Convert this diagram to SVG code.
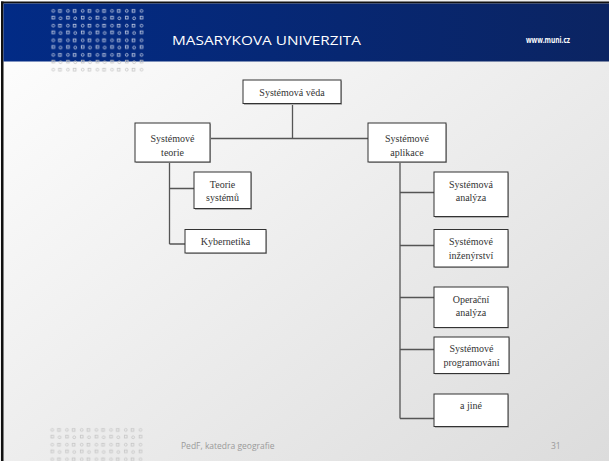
<svg xmlns="http://www.w3.org/2000/svg" width="609" height="461" viewBox="0 0 609 461">
<defs>
<linearGradient id="bg" x1="0" y1="0" x2="1" y2="1">
<stop offset="0" stop-color="#ffffff"/><stop offset="1" stop-color="#dcdcdc"/>
</linearGradient>
<linearGradient id="hd" x1="0" y1="0" x2="1" y2="0">
<stop offset="0" stop-color="#022b86"/><stop offset="1" stop-color="#0b2462"/>
</linearGradient>
<pattern id="dw" patternUnits="userSpaceOnUse" x="49.6" y="7.3" width="14.7" height="14.66">
<g fill="none" stroke="#c9d2e6" stroke-width="0.8">
<circle cx="3.67" cy="3.67" r="1.4"/><rect x="9.0" y="2.3" width="2.7" height="2.7"/>
<rect x="2.3" y="9.0" width="2.7" height="2.7"/><circle cx="11.0" cy="11.0" r="1.4"/>
</g>
</pattern>
<pattern id="dg" patternUnits="userSpaceOnUse" x="49.6" y="7.3" width="14.7" height="14.66">
<g fill="none" stroke="#c4c4c4" stroke-width="0.8">
<circle cx="3.67" cy="3.67" r="1.4"/><rect x="9.0" y="2.3" width="2.7" height="2.7"/>
<rect x="2.3" y="9.0" width="2.7" height="2.7"/><circle cx="11.0" cy="11.0" r="1.4"/>
</g>
</pattern>
<pattern id="db" patternUnits="userSpaceOnUse" x="48.6" y="426.3" width="14.7" height="14.66">
<g fill="none" stroke="#c4c4c4" stroke-width="0.8">
<circle cx="3.67" cy="3.67" r="1.4"/><rect x="9.0" y="2.3" width="2.7" height="2.7"/>
<rect x="2.3" y="9.0" width="2.7" height="2.7"/><circle cx="11.0" cy="11.0" r="1.4"/>
</g>
</pattern>
</defs>
<style>
.box{fill:#fff;stroke:#333;stroke-width:1}
.sh{fill:#b0b0b0}
.t{font-family:"Liberation Serif","Times New Roman",serif;font-size:10px;font-weight:normal;fill:#333;text-anchor:middle}
.c{fill:none;stroke:#555;stroke-width:1.3}
</style>
<rect x="0" y="0" width="609" height="461" fill="url(#bg)"/>
<rect x="1" y="1.5" width="608" height="2" fill="#111"/>
<rect x="1" y="1.5" width="2.5" height="459.5" fill="#111"/>
<rect x="3.5" y="3.5" width="605.5" height="58" fill="url(#hd)"/>
<rect x="49.6" y="7.3" width="95.5" height="51.4" fill="url(#dw)"/>
<rect x="49.6" y="58.7" width="95.5" height="14.7" fill="url(#dg)"/>
<rect x="48.6" y="426.3" width="95.5" height="34.7" fill="url(#db)"/>
<text x="172" y="45" font-family="'Open Sans','DejaVu Sans',sans-serif" font-size="13.5" fill="#fff" textLength="189" lengthAdjust="spacingAndGlyphs">MASARYKOVA UNIVERZITA</text>
<text x="526" y="43" font-family="'Open Sans','Liberation Sans',sans-serif" font-size="8.5" font-weight="bold" fill="#fff" textLength="44" lengthAdjust="spacingAndGlyphs">www.muni.cz</text>
<text x="181" y="449" font-family="'Open Sans','DejaVu Sans',sans-serif" font-size="8.5" fill="#9a9a9a">PedF, katedra geografie</text>
<text x="551" y="449" font-family="'Open Sans','DejaVu Sans',sans-serif" font-size="8.5" fill="#9a9a9a">31</text>
<g id="connectors">
<path class="c" d="M292.5 103V138.5M210 138.5H368"/>
<path class="c" d="M169.5 162V244M169.5 188.5H194M169.5 244H185"/>
<path class="c" d="M400 162V418.5M400 192.5H434M400 245.5H434M400 297.5H434M400 349.5H434M400 418.5H434"/>
</g>
<g id="n-veda"><rect class="sh" x="244" y="81" width="98" height="24"/><rect class="box" x="243" y="80" width="98" height="23.5"/><text class="t" x="292" y="95.5">Systémová věda</text></g>
<g id="n-teorie"><rect class="sh" x="136" y="124" width="75" height="39"/><rect class="box" x="135" y="123" width="75" height="39"/><text class="t" x="172.5" y="141.5">Systémové</text><text class="t" x="172.5" y="155.5">teorie</text></g>
<g id="n-aplikace"><rect class="sh" x="369" y="124" width="78" height="39"/><rect class="box" x="368" y="123" width="78" height="39"/><text class="t" x="407" y="141.5">Systémové</text><text class="t" x="407" y="155.5">aplikace</text></g>
<g id="n-teoriesys"><rect class="sh" x="195" y="173" width="57" height="37"/><rect class="box" x="194" y="172" width="57" height="36.5"/><text class="t" x="222.5" y="187.5">Teorie</text><text class="t" x="222.5" y="201">systémů</text></g>
<g id="n-kyber"><rect class="sh" x="186" y="230.5" width="81" height="23.5"/><rect class="box" x="185" y="229.5" width="81" height="23.5"/><text class="t" x="225.5" y="244.5">Kybernetika</text></g>
<g id="n-analyza"><rect class="sh" x="435" y="173" width="74" height="45"/><rect class="box" x="434" y="172" width="74" height="44.5"/><text class="t" x="471" y="188">Systémová</text><text class="t" x="471" y="201">analýza</text></g>
<g id="n-inzen"><rect class="sh" x="435" y="230.5" width="74" height="37.5"/><rect class="box" x="434" y="229.5" width="74" height="37.5"/><text class="t" x="471" y="245">Systémové</text><text class="t" x="471" y="258.5">inženýrství</text></g>
<g id="n-oper"><rect class="sh" x="435" y="288" width="74" height="40.5"/><rect class="box" x="434" y="287" width="74" height="40.5"/><text class="t" x="471" y="302.5">Operační</text><text class="t" x="471" y="316">analýza</text></g>
<g id="n-prog"><rect class="sh" x="435" y="338" width="75" height="36.5"/><rect class="box" x="434" y="337" width="75" height="36.5"/><text class="t" x="471.5" y="352">Systémové</text><text class="t" x="471.5" y="365.5">programování</text></g>
<g id="n-jine"><rect class="sh" x="435" y="395" width="74" height="33"/><rect class="box" x="434" y="394" width="74" height="32.5"/><text class="t" x="471" y="409">a jiné</text></g>
</svg>
